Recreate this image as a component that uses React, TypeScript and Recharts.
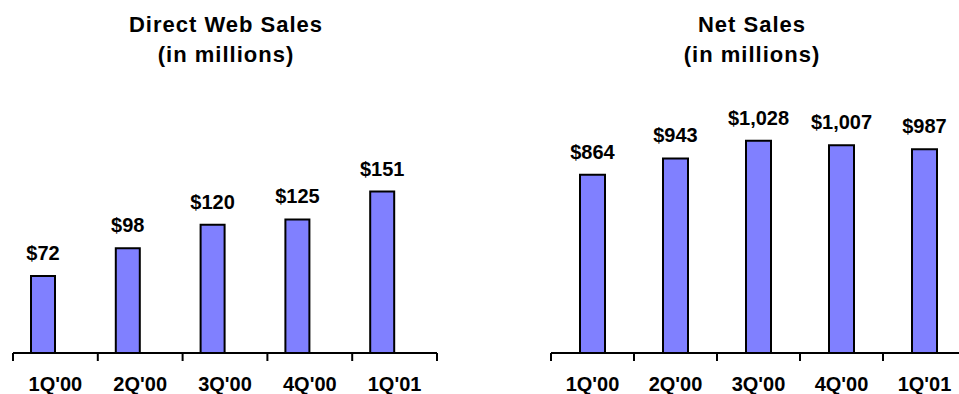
import React from "react";
import { BarChart, Bar, XAxis, YAxis, LabelList } from "recharts";

const quarters = ["1Q'00", "2Q'00", "3Q'00", "4Q'00", "1Q'01"];
const webSales = [72, 98, 120, 125, 151];
const netSales = [864, 943, 1028, 1007, 987];
const webTitle = ["Direct Web Sales", "(in millions)"];
const netTitle = ["Net Sales", "(in millions)"];

const webData = quarters.map((q, i) => ({ q, v: webSales[i] }));
const netData = quarters.map((q, i) => ({ q, v: netSales[i] }));

const FONT = "'Liberation Sans', Arial, Helvetica, sans-serif";

const makeTick = (band: number, count: number) => (props: any) => {
  const { x, y, payload, index } = props;
  return (
    <g>
      <line x1={x - band / 2} y1={y} x2={x - band / 2} y2={y + 8} stroke="#000" strokeWidth={2} />
      {index === count - 1 && (
        <line x1={x + band / 2} y1={y} x2={x + band / 2} y2={y + 8} stroke="#000" strokeWidth={2} />
      )}
      <text x={x} y={y + 38} textAnchor="middle" fontFamily={FONT} fontWeight="bold" fontSize={20} fill="#000">
        {payload.value}
      </text>
    </g>
  );
};

const fmt = (v: any) => `$${Number(v).toLocaleString("en-US")}`;

const labelStyle = { fontFamily: FONT, fontWeight: "bold" as const, fontSize: 20, fill: "#000" };

const Title = ({ lines, center }: { lines: string[]; center: number }) => (
  <div
    style={{
      position: "absolute",
      left: center - 150,
      top: 10,
      width: 300,
      textAlign: "center",
      fontFamily: FONT,
      fontWeight: "bold",
      fontSize: 22,
      letterSpacing: 1,
      lineHeight: "30px",
      color: "#000",
    }}
  >
    {lines.map((l) => (
      <div key={l}>{l}</div>
    ))}
  </div>
);

export default function App() {
  const leftPlot = 424;
  const rightPlot = 415;
  return (
    <div
      style={{
        position: "absolute",
        left: 0,
        top: 0,
        width: 959,
        height: 394,
        overflow: "hidden",
        background: "#fff",
      }}
    >
      <Title lines={webTitle} center={226} />
      <Title lines={netTitle} center={752} />
      <div style={{ position: "absolute", left: 0, top: 0 }}>
        <BarChart
          width={450}
          height={394}
          data={webData}
          margin={{ top: 182, right: 13, bottom: 0, left: 13 }}
          barCategoryGap={18}
          barGap={0}
        >
          <YAxis hide domain={[0, 160]} />
          <XAxis
            dataKey="q"
            height={41}
            interval={0}
            tickSize={0}
            tickMargin={0}
            tickLine={false}
            axisLine={{ stroke: "#000", strokeWidth: 2 }}
            tick={makeTick(leftPlot / quarters.length, quarters.length)}
          />
          <Bar dataKey="v" fill="#8080FF" stroke="#000" strokeWidth={2} isAnimationActive={false}>
            <LabelList dataKey="v" position="top" offset={16} formatter={fmt} style={labelStyle} />
          </Bar>
          <Bar dataKey="none" fill="none" isAnimationActive={false} />
        </BarChart>
      </div>
      <div style={{ position: "absolute", left: 538, top: 0 }}>
        <BarChart
          width={440}
          height={394}
          data={netData}
          margin={{ top: 126, right: 12, bottom: 0, left: 13 }}
          barCategoryGap={29}
        >
          <YAxis hide domain={[0, 1100]} />
          <XAxis
            dataKey="q"
            height={41}
            interval={0}
            tickSize={0}
            tickMargin={0}
            tickLine={false}
            axisLine={{ stroke: "#000", strokeWidth: 2 }}
            tick={makeTick(rightPlot / quarters.length, quarters.length)}
          />
          <Bar dataKey="v" fill="#8080FF" stroke="#000" strokeWidth={2} isAnimationActive={false}>
            <LabelList dataKey="v" position="top" offset={16} formatter={fmt} style={labelStyle} />
          </Bar>
        </BarChart>
      </div>
    </div>
  );
}
